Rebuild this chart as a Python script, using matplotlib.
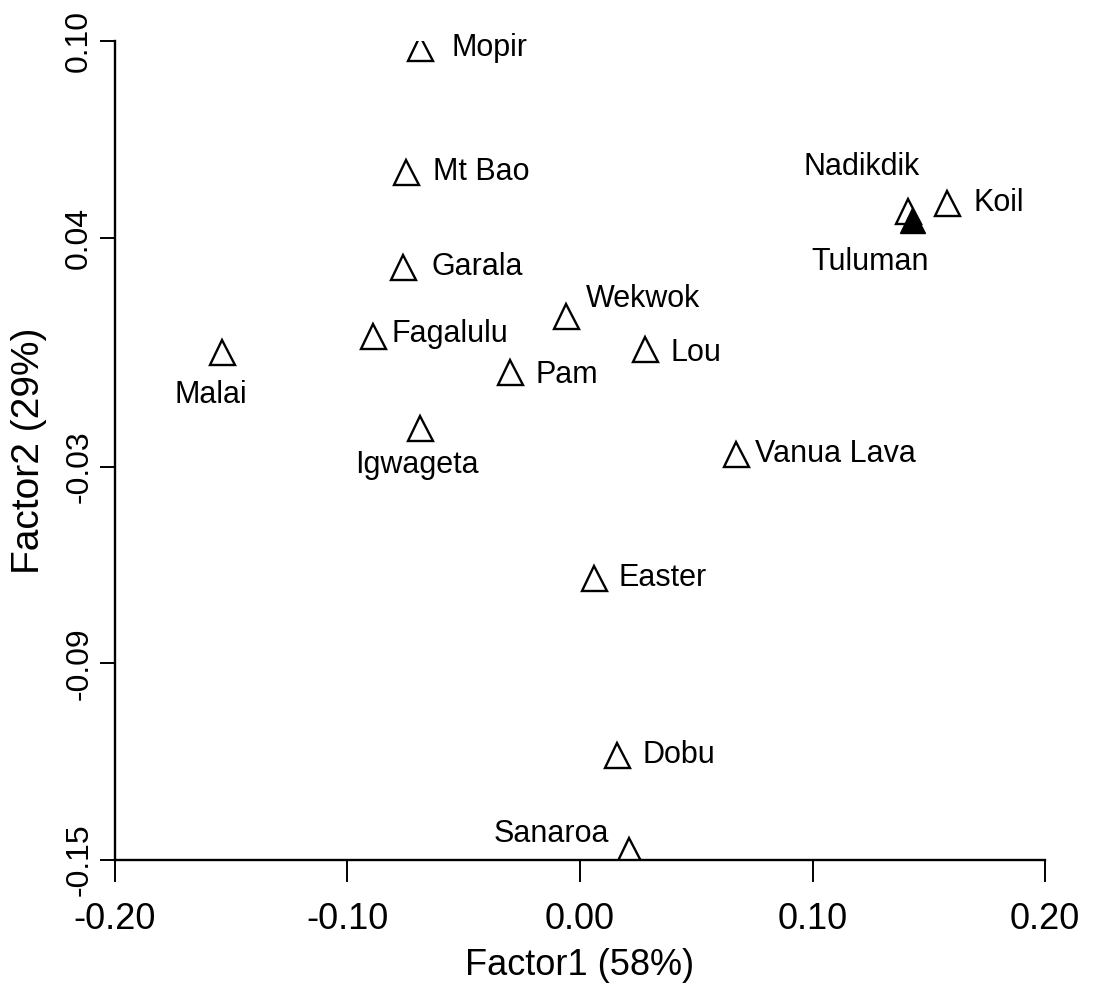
"""
Factor plot of island obsidian sources: Factor1 vs Factor2 scores.
"""
import matplotlib

matplotlib.use("Agg")
import matplotlib.pyplot as plt

plt.rcParams["font.family"] = ["Liberation Sans", "DejaVu Sans"]

sites = [
    "Mopir", "Mt Bao", "Garala", "Fagalulu", "Malai", "Igwageta", "Pam",
    "Wekwok", "Lou", "Vanua Lava", "Easter", "Dobu", "Sanaroa", "Koil",
    "Nadikdik",
]
factor1 = [
    -0.069, -0.075, -0.076, -0.089, -0.154, -0.069, -0.030,
    -0.006, 0.028, 0.067, 0.006, 0.016, 0.021, 0.158,
    0.141,
]
factor2 = [
    0.098, 0.060, 0.031, 0.010, 0.005, -0.018, -0.001,
    0.016, 0.006, -0.026, -0.064, -0.118, -0.147, 0.0505,
    0.048,
]
# (dx, dy) label offsets in points, and alignment
label_pos = {
    "Mopir": (23, 0, "left", "center"),
    "Mt Bao": (20, 0, "left", "center"),
    "Garala": (20, 0, "left", "center"),
    "Fagalulu": (13, 1, "left", "center"),
    "Malai": (-8, -31, "center", "center"),
    "Igwageta": (-2, -27, "center", "center"),
    "Pam": (18, -2, "left", "center"),
    "Wekwok": (14, 12, "left", "center"),
    "Lou": (18, -3, "left", "center"),
    "Vanua Lava": (14, 0, "left", "center"),
    "Easter": (18, 0, "left", "center"),
    "Dobu": (18, 0, "left", "center"),
    "Sanaroa": (-14, 12, "right", "center"),
    "Koil": (19, 0, "left", "center"),
    "Nadikdik": (-33, 32, "center", "center"),
}

tuluman_x = [0.1428]
tuluman_y = [0.0454]

fig = plt.figure(figsize=(10.93, 9.94), dpi=100)
ax = fig.add_axes([0.1052, 0.1348, 0.8509, 0.824])

ax.plot(factor1, factor2, linestyle="none", marker="^", markersize=18,
        markerfacecolor="white", markeredgecolor="black", markeredgewidth=1.7)
ax.plot(tuluman_x, tuluman_y, linestyle="none", marker="^", markersize=18,
        markerfacecolor="black", markeredgecolor="black")
ax.annotate("Tuluman", (tuluman_x[0], tuluman_y[0]), xytext=(-30, -30),
            textcoords="offset points", ha="center", va="center", fontsize=22)

for name, x, y in zip(sites, factor1, factor2):
    dx, dy, ha, va = label_pos[name]
    ax.annotate(name, (x, y), xytext=(dx, dy), textcoords="offset points",
                ha=ha, va=va, fontsize=22)

ax.set_xlim(-0.20, 0.20)
ax.set_ylim(-0.15, 0.10)
ax.set_xticks([-0.20, -0.10, 0.00, 0.10, 0.20])
ax.set_xticklabels(["-0.20", "-0.10", "0.00", "0.10", "0.20"])
ax.set_yticks([-0.15, -0.09, -0.03, 0.04, 0.10])
ax.set_yticklabels(["-0.15", "-0.09", "-0.03", "0.04", "0.10"],
                   rotation=90, va="center")
ax.tick_params(axis="x", direction="out", length=16, width=1.4,
               labelsize=26, pad=14)
ax.tick_params(axis="y", direction="out", length=11, width=1.4,
               labelsize=23, pad=4)
for side in ("top", "right"):
    ax.spines[side].set_visible(False)
for side in ("left", "bottom"):
    ax.spines[side].set_linewidth(1.7)

ax.set_xlabel("Factor1 (58%)", fontsize=26, labelpad=8)
ax.set_ylabel("Factor2 (29%)", fontsize=28, labelpad=12)

fig.savefig("out.png", dpi=100)
